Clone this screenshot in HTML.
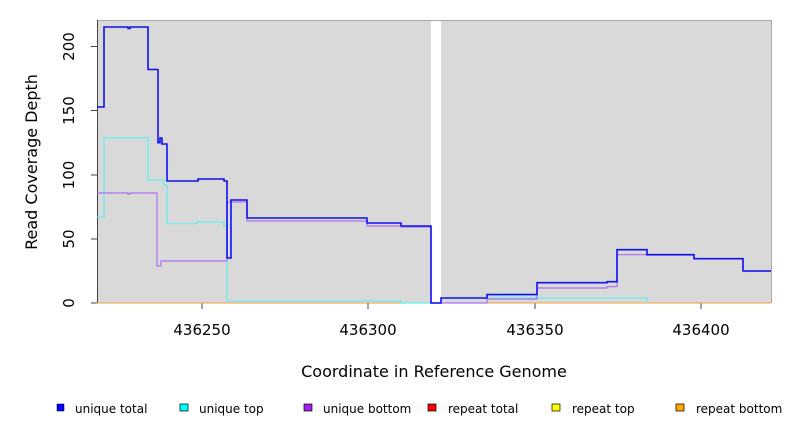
<!DOCTYPE html>
<html><head><style>body{margin:0;background:#fff}svg{display:block}</style></head><body>
<svg width="792" height="432" viewBox="0 0 792 432" font-family="DejaVu Sans, Liberation Sans, sans-serif">
<rect x="97" y="20" width="334" height="283" fill="#d9d9d9"/>
<rect x="441" y="20" width="330" height="283" fill="#d9d9d9"/>
<line x1="97" y1="20.5" x2="771" y2="20.5" stroke="#aaa"/>
<line x1="771.5" y1="20" x2="771.5" y2="303" stroke="#aaa"/>
<line x1="97.5" y1="20" x2="97.5" y2="303" stroke="#444"/>
<g stroke="#444">
<line x1="91" y1="303" x2="97" y2="303"/><line x1="91" y1="239" x2="97" y2="239"/><line x1="91" y1="175" x2="97" y2="175"/><line x1="91" y1="110.5" x2="97" y2="110.5"/><line x1="91" y1="46.5" x2="97" y2="46.5"/>
<line x1="202" y1="303" x2="202" y2="309"/><line x1="368" y1="303" x2="368" y2="309"/><line x1="535" y1="303" x2="535" y2="309"/><line x1="701" y1="303" x2="701" y2="309"/>
</g>
<g font-size="15" fill="#000" text-anchor="middle">
<text transform="translate(74,303) rotate(-90)">0</text>
<text transform="translate(74,239) rotate(-90)">50</text>
<text transform="translate(74,175) rotate(-90)">100</text>
<text transform="translate(74,110.5) rotate(-90)">150</text>
<text transform="translate(74,46.5) rotate(-90)">200</text>
<text x="202" y="335">436250</text><text x="368" y="335">436300</text><text x="535" y="335">436350</text><text x="701" y="335">436400</text>
<text x="434" y="377" font-size="16">Coordinate in Reference Genome</text>
<text transform="translate(37,162) rotate(-90)" font-size="16">Read Coverage Depth</text>
</g>
<line x1="97" y1="303" x2="771" y2="303" stroke="#f0a040" stroke-width="1"/>
<polyline fill="none" stroke="#5ff0f0" stroke-width="1.2" points="97,217 104,217 104,137.7 148,137.7 148,180 164,180 164,185 167,185 167,223.7 197,223.7 197,222 224,222 224,226 227,226 227,300.7 401,300.7 401,303 431,303 441,303 441,298 647,298 647,303"/>
<polyline fill="none" stroke="#b070f0" stroke-width="1.2" points="97,193 128,193 128,194 130,194 130,193 157,193 157,266 161,266 161,261 227,261 227,202 231,202 231,202 247,202 247,221 367,221 367,226 401,226 401,227 431,227 431,303 441,303 441,303 487,303 487,299 537,299 537,288 607,288 607,286.7 617,286.7 617,254.7 647,254.7 647,255 694,255 694,258.7 743,258.7 743,271 771,271"/>
<polyline fill="none" stroke="#1010f0" stroke-width="1.6" points="97,107 104,107 104,27 128,27 128,28.5 130,28.5 130,27 148,27 148,69.5 158,69.5 158,142.7 160,142.7 160,138 162,138 162,144 167,144 167,181 198,181 198,179 224,179 224,181 227,181 227,258 231,258 231,200 247,200 247,218 367,218 367,223 401,223 401,226 431,226 431,303 441,303 441,298 487,298 487,294.6 537,294.6 537,282.7 607,282.7 607,281.7 617,281.7 617,249.7 647,249.7 647,254.7 694,254.7 694,258.7 743,258.7 743,271 771,271"/>
<g font-size="12" fill="#000">
<rect x="57" y="404" width="7" height="7" fill="#0000ff" stroke="#000" stroke-width=".5"/><text x="75" y="413">unique total</text>
<rect x="180" y="404" width="8" height="7" fill="#00ffff" stroke="#000" stroke-width=".7"/><text x="199" y="413">unique top</text>
<rect x="304" y="404" width="8" height="7" fill="#a020f0" stroke="#000" stroke-width=".7"/><text x="323" y="413">unique bottom</text>
<rect x="428" y="404" width="8" height="7" fill="#ff0000" stroke="#000" stroke-width=".7"/><text x="448" y="413">repeat total</text>
<rect x="552" y="404" width="8" height="7" fill="#ffff00" stroke="#000" stroke-width=".7"/><text x="572" y="413">repeat top</text>
<rect x="676" y="404" width="8" height="7" fill="#ffa500" stroke="#000" stroke-width=".7"/><text x="696" y="413">repeat bottom</text>
</g>
</svg>
</body></html>
